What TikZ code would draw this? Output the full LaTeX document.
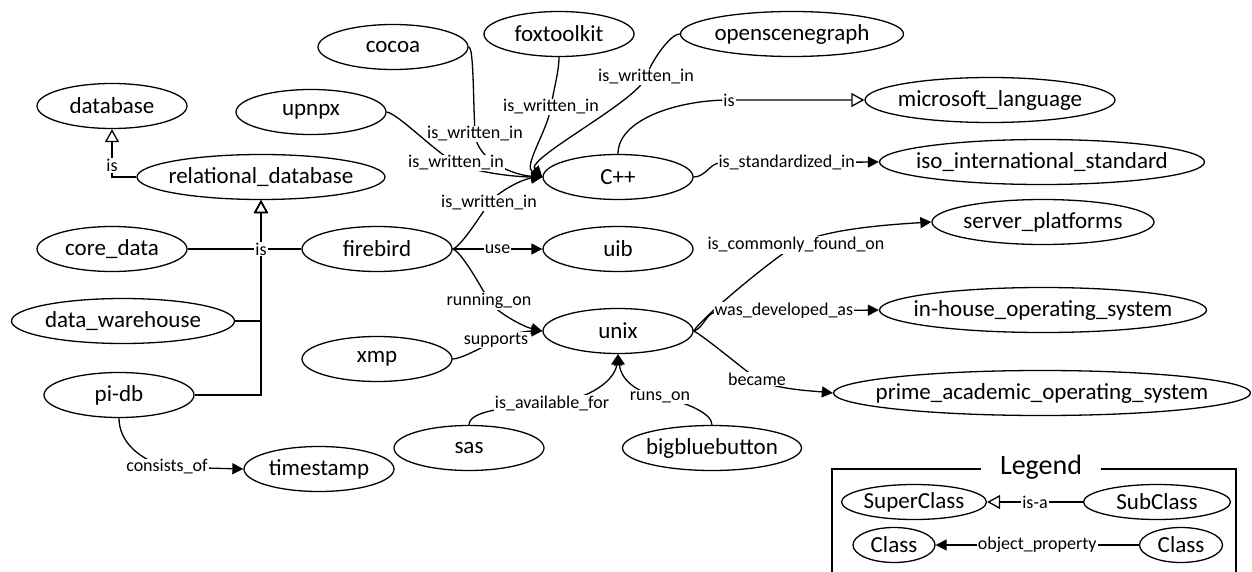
\documentclass[tikz,border=0pt]{standalone}
\usepackage{fontspec}
\setmainfont{Carlito}
\usetikzlibrary{shapes.geometric,arrows.meta}
\newcommand{\cname}[1]{\makebox[0pt]{#1}}

\tikzset{
  cls/.style={draw, ellipse, line width=1.3pt, inner sep=0pt, minimum width=150pt, minimum height=45pt, font=\fontsize{23}{26}\selectfont},
  lcls/.style={cls, minimum height=35pt},
  lbl/.style={fill=white, inner sep=1pt, font=\fontsize{18}{20}\selectfont},
  rel/.style={line width=1.3pt, -{Triangle[length=11pt,width=11pt]}},
  isa/.style={line width=1.3pt, -{Triangle[open,length=13pt,width=14pt]}},
}

\begin{document}
\begin{tikzpicture}[x=1pt,y=-1pt]
            \useasboundingbox (0,0) rectangle (1252,572);
            % Databases
            \node[cls] (database) at (112,106) {\cname{database}};
            \node[cls, minimum width=248pt] (reldb) at (261,177) {\cname{relational\_database}};
            \node[cls] (coredata) at (112,249) {\cname{core\_data}};
            \node[cls] (firebird) at (377,249) {\cname{firebird}};
            \node[cls, minimum width=223pt] (dwh) at (123,321) {\cname{data\_warehouse}};
            \node[cls] (pidb) at (119,395) {\cname{pi-db}};
            \node[cls] (timestamp) at (319,469) {\cname{timestamp}};

            % Language
            \node[cls] (cocoa) at (393,47) {\cname{cocoa}};
            \node[cls] (upnpx) at (311,112) {\cname{upnpx}};
            \node[cls] (fox) at (559,34) {\cname{foxtoolkit}};
            \node[cls, minimum width=223pt] (osg) at (792,34) {\cname{openscenegraph}};
            \node[cls] (cpp) at (618,177) {\cname{C++}};
            \node[cls, minimum width=250pt] (mslang) at (990,100) {\cname{microsoft\_language}};
            \node[cls, minimum width=325pt] (iso) at (1042,162) {\cname{iso\_international\_standard}};
            \node[cls] (uib) at (618,249) {\cname{uib}};

            % Operating system
            \node[cls] (xmp) at (377,359) {\cname{xmp}};
            \node[cls] (unix) at (618,331) {\cname{unix}};
            \node[cls] (sas) at (469,448) {\cname{sas}};
            \node[cls, minimum width=179pt] (bbb) at (712,448) {\cname{bigbluebutton}};
            \node[cls, minimum width=222pt] (servp) at (1043,222) {\cname{server\_platforms}};
            \node[cls, minimum width=327pt] (inhouse) at (1043,310) {\cname{in-house\_operating\_system}};
            \node[cls, minimum width=417pt] (prime) at (1042,393) {\cname{prime\_academic\_operating\_system}};

            % Subclass links
            \draw[isa] (reldb.west) -| node[lbl, pos=0.62] {is} (database.south);
            \draw[isa] (firebird.west) -| (reldb.south);
            \draw[isa] (dwh.east) -| (reldb.south);
            \draw[isa] (pidb.east) -| (reldb.south);
            \draw[isa] (coredata.east) -| node[lbl, pos=0.5] {is} (reldb.south);
            \draw[isa] (cpp.north) .. controls +(0,-35) and +(-50,0) .. (729,100) node[lbl] {is} -- (mslang.west);

            % Object properties
            \draw[rel] (cocoa.east) .. controls +(5,0) and +(-2,-40) .. (475,134) node[lbl] {is\_written\_in}
                .. controls +(2,26) and +(-30,-2) .. (cpp.west);
            \draw[rel] (upnpx.east) .. controls +(12,2) and +(-20,-10) .. (456,163) node[lbl] {is\_written\_in}
                .. controls +(20,10) and +(-25,0) .. (cpp.west);
            \draw[rel] (fox.south) .. controls +(0,15) and +(2,-15) .. (551,107) node[lbl] {is\_written\_in}
                .. controls +(-4,25) and +(-20,-10) .. (cpp.west);
            \draw[rel] (osg.west) .. controls +(-10,0) and +(5,-15) .. (646,77) node[lbl] {is\_written\_in}
                .. controls +(-8,24) and +(-18,-18) .. (cpp.west);
            \draw[rel] (firebird.east) .. controls +(8,-2) and +(-8,12) .. (489,203) node[lbl] {is\_written\_in}
                .. controls +(10,-12) and +(-20,2) .. (cpp.west);
            \draw[rel] (cpp.east) .. controls +(12,0) and +(-10,0) .. (720,163)
                -- node[lbl, pos=0.42] {is\_standardized\_in} (iso.west);
            \draw[rel] (firebird.east) -- node[lbl] {use} (uib.west);
            \draw[rel] (firebird.east) .. controls +(8,2) and +(-10,-18) .. (489,301) node[lbl] {running\_on}
                .. controls +(8,12) and +(-18,-4) .. (unix.west);
            \draw[rel] (xmp.east) .. controls +(8,0) and +(-15,8) .. (496,340) node[lbl] {supports}
                .. controls +(15,-8) and +(-10,0) .. (unix.west);
            \draw[rel] (sas.north) .. controls +(0,-15) and +(-40,4) .. (552,403) node[lbl] {is\_available\_for}
                .. controls +(40,-4) and +(-3,25) .. (unix.south);
            \draw[rel] (bbb.north) .. controls +(0,-12) and +(25,5) .. (660,397) node[lbl] {runs\_on}
                .. controls +(-25,-5) and +(3,25) .. (unix.south);
            \draw[rel] (unix.east) .. controls +(10,-15) and +(-25,15) .. (796,245) node[lbl] {is\_commonly\_found\_on}
                .. controls +(25,-15) and +(-50,3) .. (servp.west);
            \draw[rel] (unix.east) .. controls +(10,-3) and +(-10,3) .. (715,312)
                -- node[lbl, pos=0.42] {was\_developed\_as} (inhouse.west);
            \draw[rel] (unix.east) .. controls +(10,5) and +(-20,-15) .. (757,379) node[lbl] {became}
                .. controls +(15,10) and +(-20,-2) .. (prime.west);
            \draw[rel] (pidb.south) .. controls +(0,22) and +(-30,-8) .. (167,467) node[lbl] {consists\_of}
                -- (timestamp.west);

            % Legend
            \draw[line width=1.3pt] (832,469) rectangle (1236,580);
            \node[fill=white, inner xsep=19pt, inner ysep=0pt, font=\fontsize{28}{30}\selectfont] (legend) at (1041,467) {Legend};
            \node[lcls, minimum width=145pt] (super) at (914,502) {\cname{SuperClass}};
            \node[lcls, minimum width=147pt] (sub) at (1157,502) {\cname{SubClass}};
            \node[lcls, minimum width=82pt] (cls1) at (894,545) {\cname{Class}};
            \node[lcls, minimum width=83pt] (cls2) at (1181,545) {\cname{Class}};
            \draw[isa] (sub.west) -- node[lbl] {is-a} (super.east);
            \draw[rel] (cls2.west) -- node[lbl] {object\_property} (cls1.east);

        \end{tikzpicture}
\end{document}
